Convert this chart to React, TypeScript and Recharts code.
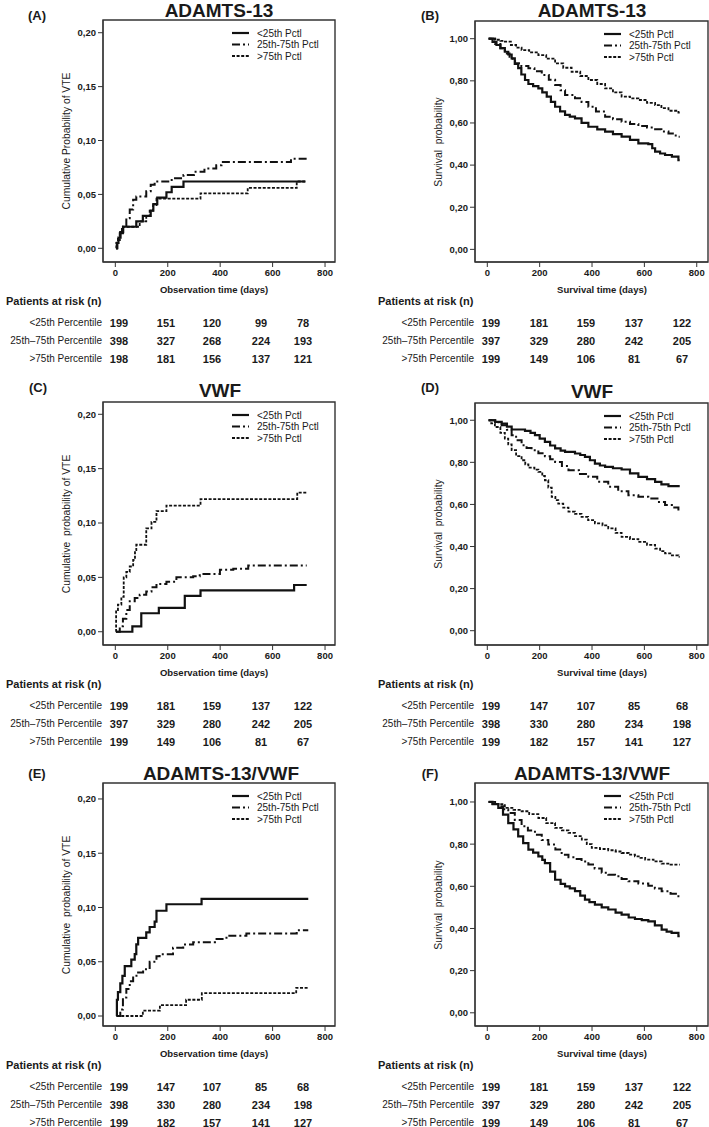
import React from "react"
import { LineChart, Line, XAxis, YAxis, ReferenceArea } from "recharts"

type Pt = [number, number] // [days, value]

const X_TICKS = [0, 200, 400, 600, 800]
const CUM_TICKS = [0, 0.05, 0.1, 0.15, 0.2]
const SURV_TICKS = [0, 0.2, 0.4, 0.6, 0.8, 1]

const LEGEND_LABELS = ["<25th Pctl", "25th-75th Pctl", ">75th Pctl"]
const RISK_LABELS = ["<25th Percentile", "25th–75th Percentile", ">75th Percentile"]

// (A) ADAMTS-13, cumulative probability of VTE
const A_LOW: Pt[] = [[3, 0], [6, 0.005], [12, 0.01], [20, 0.015], [30, 0.02], [80, 0.025], [105, 0.03], [135, 0.035], [145, 0.041], [160, 0.047], [195, 0.052], [215, 0.057], [260, 0.062], [725, 0.062]]
const A_MID: Pt[] = [[3, 0], [8, 0.005], [17, 0.014], [29, 0.02], [42, 0.028], [55, 0.036], [68, 0.045], [80, 0.048], [118, 0.053], [135, 0.059], [150, 0.062], [215, 0.065], [260, 0.068], [300, 0.071], [340, 0.074], [385, 0.077], [405, 0.08], [670, 0.083], [730, 0.083]]
const A_HIGH: Pt[] = [[3, 0], [4, 0.005], [10, 0.01], [18, 0.015], [25, 0.02], [93, 0.025], [118, 0.03], [131, 0.035], [144, 0.04], [157, 0.046], [325, 0.051], [505, 0.056], [692, 0.062], [725, 0.062]]

// (B) ADAMTS-13, survival
const B_LOW: Pt[] = [[5, 1], [20, 0.985], [35, 0.97], [50, 0.955], [67, 0.938], [80, 0.925], [93, 0.907], [105, 0.88], [118, 0.86], [130, 0.83], [144, 0.804], [157, 0.785], [175, 0.775], [195, 0.764], [210, 0.745], [227, 0.725], [243, 0.7], [259, 0.677], [278, 0.655], [297, 0.638], [315, 0.63], [335, 0.622], [360, 0.6], [386, 0.582], [420, 0.57], [450, 0.559], [480, 0.547], [513, 0.535], [545, 0.52], [577, 0.503], [615, 0.5], [630, 0.48], [641, 0.464], [660, 0.455], [679, 0.448], [705, 0.44], [730, 0.424], [735, 0.424]]
const B_MID: Pt[] = [[5, 1], [30, 0.975], [50, 0.955], [67, 0.93], [85, 0.905], [106, 0.883], [130, 0.87], [157, 0.86], [180, 0.845], [208, 0.828], [235, 0.805], [259, 0.78], [280, 0.755], [297, 0.733], [335, 0.717], [360, 0.7], [386, 0.677], [415, 0.655], [450, 0.63], [480, 0.618], [513, 0.606], [545, 0.595], [577, 0.585], [610, 0.578], [641, 0.57], [665, 0.56], [692, 0.55], [715, 0.54], [730, 0.535], [735, 0.535]]
const B_HIGH: Pt[] = [[5, 1], [30, 0.995], [50, 0.99], [67, 0.986], [90, 0.97], [110, 0.958], [131, 0.946], [160, 0.935], [195, 0.922], [225, 0.905], [259, 0.883], [290, 0.862], [322, 0.843], [355, 0.823], [386, 0.804], [420, 0.785], [450, 0.764], [480, 0.745], [513, 0.725], [545, 0.717], [577, 0.709], [610, 0.695], [641, 0.685], [665, 0.67], [692, 0.658], [730, 0.649], [735, 0.649]]

// (C) VWF, cumulative probability of VTE
const C_LOW: Pt[] = [[3, 0], [65, 0.005], [99, 0.017], [166, 0.022], [265, 0.033], [325, 0.038], [682, 0.043], [730, 0.043]]
const C_MID: Pt[] = [[3, 0], [17, 0.005], [29, 0.012], [42, 0.02], [55, 0.028], [74, 0.031], [93, 0.034], [118, 0.037], [138, 0.041], [157, 0.044], [195, 0.046], [233, 0.05], [297, 0.051], [322, 0.053], [399, 0.057], [450, 0.058], [507, 0.061], [730, 0.061]]
const C_HIGH: Pt[] = [[2, 0], [3, 0.02], [10, 0.025], [23, 0.032], [32, 0.05], [42, 0.055], [55, 0.06], [68, 0.066], [75, 0.075], [80, 0.08], [118, 0.095], [138, 0.101], [157, 0.111], [195, 0.116], [325, 0.122], [694, 0.128], [730, 0.128]]

// (D) VWF, survival
const D_LOW: Pt[] = [[5, 1], [30, 0.992], [55, 0.984], [75, 0.97], [93, 0.956], [144, 0.95], [165, 0.94], [182, 0.929], [200, 0.913], [220, 0.897], [240, 0.88], [259, 0.866], [280, 0.856], [297, 0.85], [335, 0.842], [355, 0.835], [373, 0.826], [392, 0.81], [411, 0.794], [430, 0.785], [450, 0.778], [480, 0.772], [513, 0.766], [545, 0.748], [577, 0.731], [610, 0.72], [641, 0.707], [665, 0.695], [692, 0.687], [735, 0.687]]
const D_MID: Pt[] = [[5, 1], [30, 0.99], [55, 0.976], [75, 0.955], [93, 0.929], [110, 0.905], [131, 0.881], [150, 0.868], [169, 0.858], [195, 0.843], [220, 0.829], [240, 0.815], [259, 0.802], [285, 0.783], [310, 0.763], [350, 0.745], [386, 0.731], [420, 0.708], [462, 0.684], [500, 0.663], [539, 0.644], [577, 0.636], [615, 0.628], [650, 0.612], [679, 0.597], [705, 0.585], [730, 0.57], [735, 0.57]]
const D_HIGH: Pt[] = [[5, 1], [15, 0.985], [29, 0.968], [50, 0.94], [67, 0.913], [80, 0.885], [93, 0.858], [110, 0.83], [131, 0.81], [145, 0.79], [157, 0.775], [180, 0.765], [195, 0.755], [210, 0.735], [220, 0.715], [233, 0.68], [246, 0.636], [260, 0.62], [271, 0.604], [290, 0.585], [310, 0.566], [335, 0.555], [360, 0.541], [385, 0.525], [411, 0.51], [440, 0.5], [462, 0.486], [490, 0.465], [513, 0.446], [545, 0.435], [577, 0.422], [610, 0.408], [641, 0.39], [660, 0.378], [679, 0.367], [705, 0.358], [730, 0.351], [735, 0.351]]

// (E) ADAMTS-13/VWF, cumulative probability of VTE
const E_LOW: Pt[] = [[5, 0], [6, 0.015], [10, 0.022], [19, 0.03], [27, 0.037], [36, 0.046], [61, 0.052], [74, 0.057], [80, 0.066], [87, 0.072], [118, 0.077], [131, 0.082], [150, 0.087], [157, 0.097], [195, 0.103], [329, 0.108], [736, 0.108]]
const E_MID: Pt[] = [[5, 0], [19, 0.006], [29, 0.017], [42, 0.025], [55, 0.032], [68, 0.037], [87, 0.04], [106, 0.043], [131, 0.05], [157, 0.055], [169, 0.057], [220, 0.063], [259, 0.066], [297, 0.068], [380, 0.071], [424, 0.074], [500, 0.076], [692, 0.079], [736, 0.079]]
const E_HIGH: Pt[] = [[5, 0], [105, 0.005], [170, 0.01], [270, 0.015], [330, 0.021], [690, 0.026], [736, 0.026]]

// (F) ADAMTS-13/VWF, survival
const F_LOW: Pt[] = [[5, 1], [20, 0.99], [42, 0.972], [60, 0.94], [80, 0.9], [100, 0.87], [118, 0.837], [137, 0.805], [157, 0.774], [175, 0.76], [195, 0.742], [210, 0.725], [220, 0.71], [240, 0.67], [259, 0.631], [280, 0.612], [297, 0.6], [315, 0.59], [335, 0.577], [355, 0.556], [373, 0.537], [390, 0.525], [411, 0.513], [437, 0.5], [462, 0.49], [490, 0.475], [513, 0.466], [540, 0.452], [564, 0.445], [590, 0.44], [615, 0.434], [640, 0.415], [666, 0.395], [685, 0.385], [704, 0.379], [730, 0.363], [735, 0.363]]
const F_MID: Pt[] = [[5, 1], [20, 0.99], [42, 0.98], [60, 0.965], [80, 0.948], [105, 0.915], [131, 0.885], [155, 0.865], [182, 0.845], [208, 0.82], [233, 0.798], [260, 0.775], [284, 0.75], [310, 0.738], [335, 0.73], [360, 0.718], [386, 0.703], [410, 0.685], [437, 0.664], [462, 0.655], [488, 0.648], [513, 0.635], [539, 0.624], [577, 0.613], [615, 0.603], [640, 0.59], [666, 0.577], [700, 0.565], [730, 0.553], [735, 0.553]]
const F_HIGH: Pt[] = [[5, 1], [30, 0.99], [67, 0.972], [100, 0.963], [131, 0.956], [160, 0.942], [195, 0.924], [225, 0.9], [259, 0.877], [285, 0.865], [310, 0.853], [335, 0.838], [361, 0.821], [380, 0.8], [399, 0.782], [430, 0.777], [462, 0.771], [490, 0.765], [513, 0.758], [540, 0.75], [564, 0.742], [585, 0.735], [603, 0.727], [635, 0.718], [666, 0.708], [700, 0.703], [735, 0.703]]

// patients at risk (rows: <25th, 25th–75th, >75th)
const RISK_A = [[199, 151, 120, 99, 78], [398, 327, 268, 224, 193], [198, 181, 156, 137, 121]]
const RISK_B = [[199, 181, 159, 137, 122], [397, 329, 280, 242, 205], [199, 149, 106, 81, 67]]
const RISK_C = [[199, 181, 159, 137, 122], [397, 329, 280, 242, 205], [199, 149, 106, 81, 67]]
const RISK_D = [[199, 147, 107, 85, 68], [398, 330, 280, 234, 198], [199, 182, 157, 141, 127]]
const RISK_E = [[199, 147, 107, 85, 68], [398, 330, 280, 234, 198], [199, 182, 157, 141, 127]]
const RISK_F = [[199, 181, 159, 137, 122], [397, 329, 280, 242, 205], [199, 149, 106, 81, 67]]

const FONT = "'Liberation Sans', Arial, Helvetica, sans-serif"
const INK = "#1a1a1a"
const AXIS_W = 103
const XAXIS_H = 40
const PAD = 2

const LINE_STYLES = [
  { dash: undefined as string | undefined, width: 2.2 },
  { dash: "8 3 2 3", width: 2 },
  { dash: "3 1.6", width: 1.8 },
]

const fmt = (v: number) => v.toFixed(2).replace(".", ",")

type TxtProps = {
  x: number
  y: number
  size: number
  bold?: boolean
  anchor?: "start" | "middle" | "end"
  rotate?: boolean
  children: React.ReactNode
}

function Txt({ x, y, size, bold, anchor = "middle", rotate, children }: TxtProps) {
  const tx = anchor === "start" ? "0" : anchor === "end" ? "-100%" : "-50%"
  return (
    <div
      style={{
        position: "absolute",
        left: x,
        top: y,
        transform: `translate(${tx}, -50%)${rotate ? " rotate(-90deg)" : ""}`,
        fontSize: size,
        fontWeight: bold ? "bold" : "normal",
        lineHeight: 1,
        whiteSpace: "pre",
        color: INK,
      }}
    >
      {children}
    </div>
  )
}

type PanelCfg = {
  tag: string
  title: string
  yTitle: string
  survival: boolean
  fx: number
  fy: number
  fw: number
  fh: number
  yDomain: [number, number]
  series: Pt[][]
  risk: number[][]
  tagPos: [number, number]
  titlePos: [number, number]
}

const LEFT_X: [number, number] = [-47, 838]
const RIGHT_X: [number, number] = [-47, 843]

const PANELS: PanelCfg[] = [
  { tag: "(A)", title: "ADAMTS-13", yTitle: "Cumulative Probability of VTE", survival: false, fx: 103, fy: 20, fw: 232, fh: 242, yDomain: [-0.0127, 0.2118], series: [A_LOW, A_MID, A_HIGH], risk: RISK_A, tagPos: [37, 15], titlePos: [219, 10] },
  { tag: "(B)", title: "ADAMTS-13", yTitle: "Survival  probability", survival: true, fx: 475, fy: 21, fw: 233, fh: 241, yDomain: [-0.06, 1.084], series: [B_LOW, B_MID, B_HIGH], risk: RISK_B, tagPos: [430, 15], titlePos: [592, 10] },
  { tag: "(C)", title: "VWF", yTitle: "Cumulative  probability of VTE", survival: false, fx: 103, fy: 402, fw: 232, fh: 243, yDomain: [-0.0122, 0.2113], series: [C_LOW, C_MID, C_HIGH], risk: RISK_C, tagPos: [38, 387], titlePos: [220, 390] },
  { tag: "(D)", title: "VWF", yTitle: "Survival  probability", survival: true, fx: 475, fy: 403, fw: 233, fh: 242, yDomain: [-0.068, 1.082], series: [D_LOW, D_MID, D_HIGH], risk: RISK_D, tagPos: [430, 387], titlePos: [592, 391] },
  { tag: "(E)", title: "ADAMTS-13/VWF", yTitle: "Cumulative  probability of VTE", survival: false, fx: 103, fy: 783, fw: 232, fh: 243, yDomain: [-0.0092, 0.2147], series: [E_LOW, E_MID, E_HIGH], risk: RISK_E, tagPos: [37, 773], titlePos: [221, 773] },
  { tag: "(F)", title: "ADAMTS-13/VWF", yTitle: "Survival  probability", survival: true, fx: 475, fy: 783, fw: 233, fh: 243, yDomain: [-0.0626, 1.09], series: [F_LOW, F_MID, F_HIGH], risk: RISK_F, tagPos: [430, 773], titlePos: [592, 773] },
]

const TICK = { fill: INK, fontSize: 9.5, fontWeight: "bold", fontFamily: FONT }

function Panel({ p }: { p: PanelCfg }) {
  const xDomain = p.survival ? RIGHT_X : LEFT_X
  const fb = p.fy + p.fh
  const right = p.survival
  const headerX = right ? 378 : 6
  const labelRight = right ? 474 : 102
  const cols = right ? [491, 539, 586, 634, 682] : [119, 166, 212, 261, 303]
  const lx = p.fx + 128
  const ly = p.fy + 13
  return (
    <>
      <Txt x={p.tagPos[0]} y={p.tagPos[1]} size={13} bold>{p.tag}</Txt>
      <Txt x={p.titlePos[0]} y={p.titlePos[1]} size={19} bold>{p.title}</Txt>

      <div style={{ position: "absolute", left: p.fx - AXIS_W, top: p.fy - PAD }}>
        <LineChart
          width={AXIS_W + p.fw + 2}
          height={p.fh + PAD + XAXIS_H}
          margin={{ top: PAD, right: 2, bottom: 0, left: 0 }}
        >
          <XAxis
            type="number"
            dataKey="t"
            domain={xDomain}
            ticks={X_TICKS}
            interval={0}
            allowDataOverflow
            height={XAXIS_H}
            tickSize={5}
            tickMargin={2}
            stroke="#333"
            tick={TICK}
          />
          <YAxis
            type="number"
            domain={p.yDomain}
            ticks={p.survival ? SURV_TICKS : CUM_TICKS}
            interval={0}
            allowDataOverflow
            width={AXIS_W}
            tickSize={5}
            tickMargin={2}
            tickFormatter={fmt}
            stroke="#333"
            tick={TICK}
          />
          <ReferenceArea
            x1={xDomain[0]}
            x2={xDomain[1]}
            y1={p.yDomain[0]}
            y2={p.yDomain[1]}
            fill="none"
            stroke="#333"
            strokeWidth={1.4}
            fillOpacity={0}
          />
          {p.series.map((s, i) => (
            <Line
              key={i}
              data={s.map(([t, v]) => ({ t, v }))}
              dataKey="v"
              type="stepAfter"
              stroke="#111"
              strokeWidth={LINE_STYLES[i].width}
              strokeDasharray={LINE_STYLES[i].dash}
              dot={false}
              activeDot={false}
              isAnimationActive={false}
            />
          ))}
        </LineChart>
      </div>

      {/* legend */}
      <svg
        style={{ position: "absolute", left: lx, top: ly - 6 }}
        width={110}
        height={36}
      >
        {LEGEND_LABELS.map((lab, i) => (
          <g key={lab}>
            <line
              x1={1}
              x2={18}
              y1={6 + i * 11.5}
              y2={6 + i * 11.5}
              stroke="#111"
              strokeWidth={LINE_STYLES[i].width}
              strokeDasharray={LINE_STYLES[i].dash}
            />
            <text x={26} y={6 + i * 11.5} dy="0.35em" fontSize={10} fill={INK} fontFamily={FONT}>
              {lab}
            </text>
          </g>
        ))}
      </svg>

      {/* axis titles */}
      <Txt x={p.fx - 36} y={p.fy + p.fh / 2} size={10.3} rotate>{p.yTitle}</Txt>
      <Txt x={right ? 602 : 214} y={fb + 28} size={9.5} bold>
        {right ? "Survival time (days)" : "Observation time (days)"}
      </Txt>

      {/* patients at risk */}
      <Txt x={headerX} y={fb + 39} size={11} bold anchor="start">Patients at risk (n)</Txt>
      {p.risk.map((row, r) => (
        <React.Fragment key={r}>
          <Txt x={labelRight} y={fb + 61 + r * 18} size={10} anchor="end">{RISK_LABELS[r]}</Txt>
          {row.map((n, c) => (
            <Txt key={c} x={cols[c]} y={fb + 61 + r * 18} size={11} bold>{n}</Txt>
          ))}
        </React.Fragment>
      ))}
    </>
  )
}

export default function App() {
  return (
    <>
      <style>{`body{margin:0;background:#fff}`}</style>
      <div
        style={{
          position: "relative",
          width: 709,
          height: 1127,
          overflow: "hidden",
          background: "#fff",
          fontFamily: FONT,
        }}
      >
        {PANELS.map((p) => (
          <Panel key={p.tag} p={p} />
        ))}
      </div>
    </>
  )
}
